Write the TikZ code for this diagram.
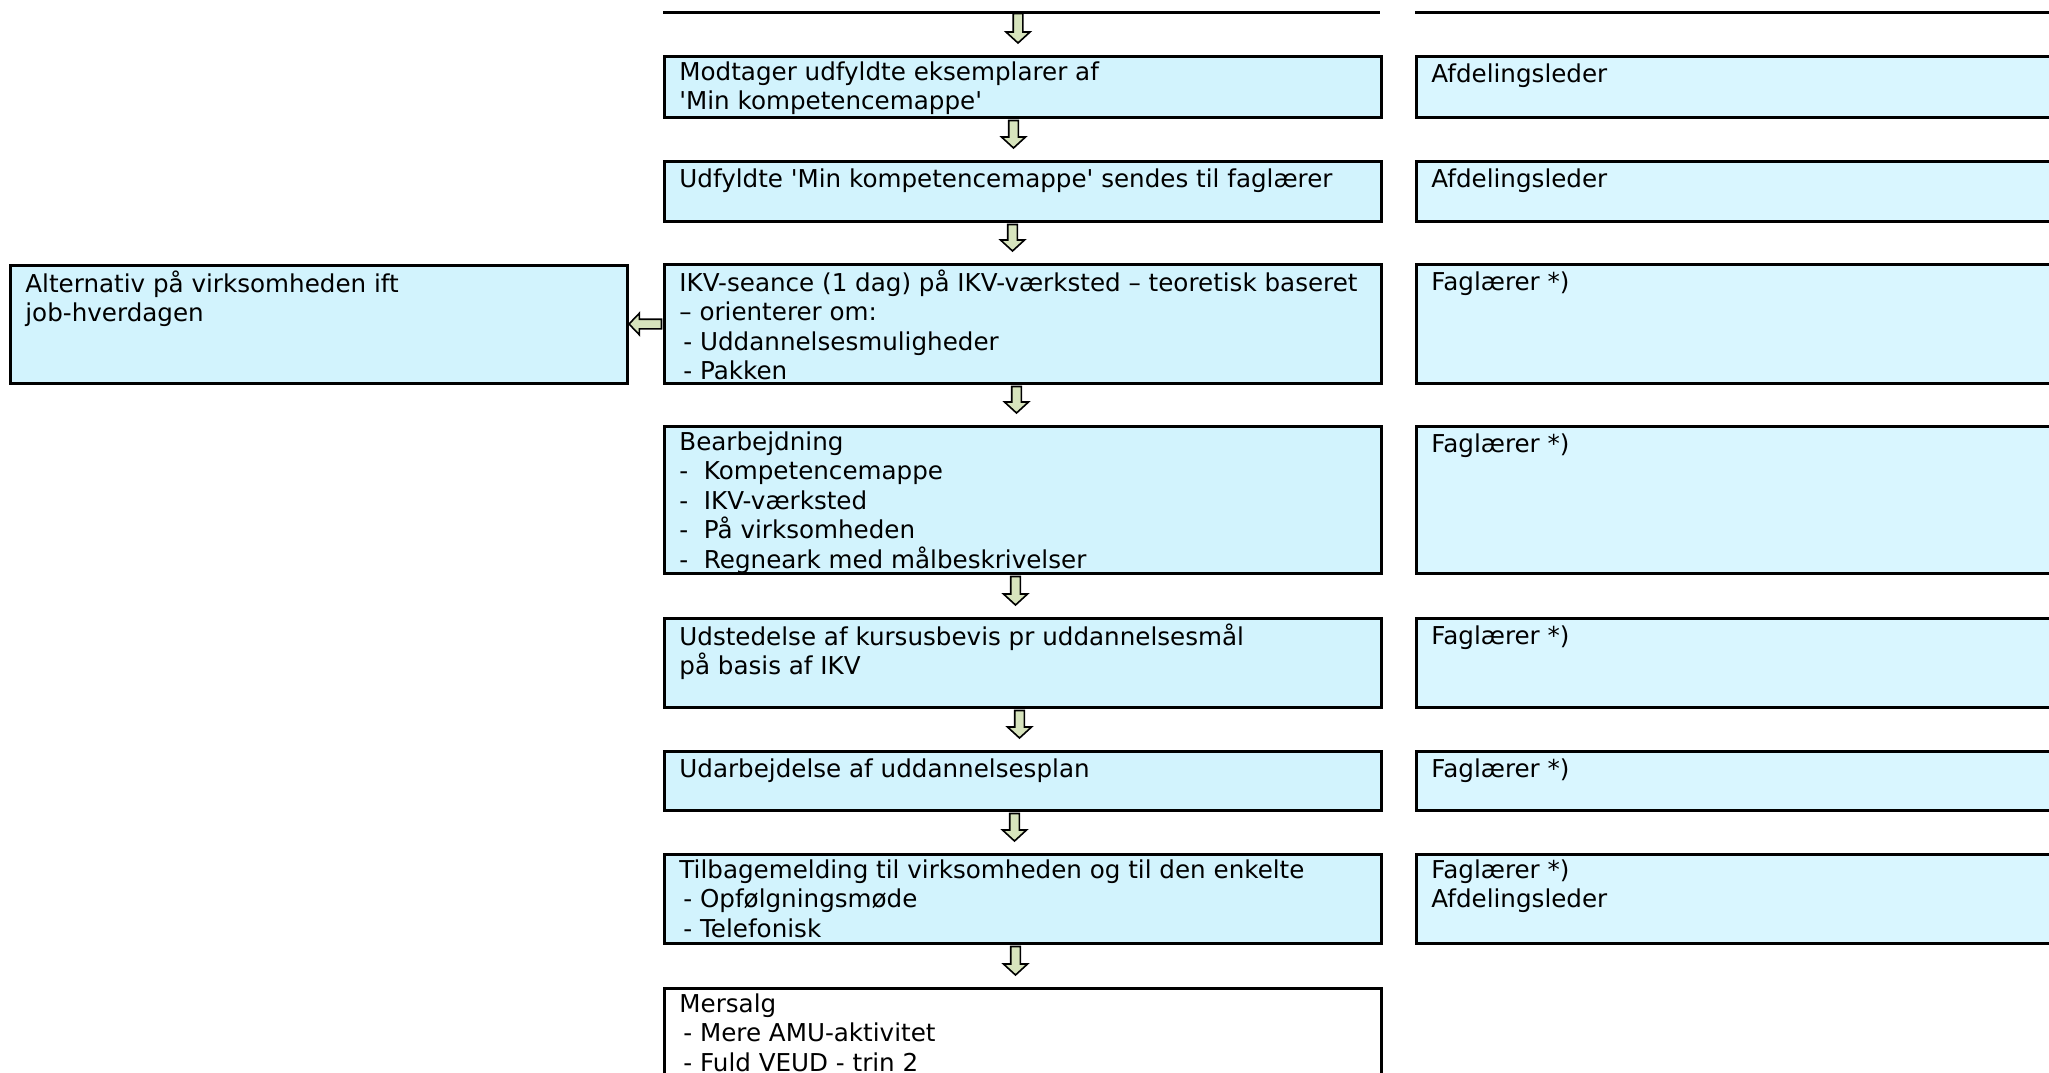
\documentclass[tikz,border=0pt]{standalone}
\usepackage{fontspec}
\setmainfont{DejaVu Sans}[Ligatures=TeXOff]
\usetikzlibrary{calc}

\definecolor{boxblue}{RGB}{210,243,253}
\definecolor{sideblue}{RGB}{217,246,255}
\definecolor{arrowgreen}{RGB}{215,228,189}

\tikzstyle{box} = [draw=black, line width=1.5pt, fill=boxblue, rectangle, inner sep=0, anchor=north west]
\tikzstyle{sidebox} = [box, fill=sideblue]
\tikzstyle{boxtext} = [anchor=north west, inner sep=0, align=left, font=\fontsize{12.3}{14.75}\selectfont, execute at begin node={\rule{0pt}{10.5pt}}]
\tikzstyle{flow} = [draw=black, line width=0.8pt, fill=arrowgreen, line join=miter]

\begin{document}
\begin{tikzpicture}[x=0.5pt,y=-0.5pt]
\def\wc{358.5pt}
\def\wr{330pt}

% down arrow: from, to, x offset
\def\flowdown#1#2#3{%
  \path[flow] let \p1=($(#1)+(#3,0)$), \p2=(#2) in
    (\x1-2.4pt,\y1-0.75pt) -- (\x1+2.4pt,\y1-0.75pt) -- (\x1+2.4pt,\y2+11.5pt) -- (\x1+6pt,\y2+11.5pt)
    -- (\x1,\y2+6pt) -- (\x1-6pt,\y2+11.5pt) -- (\x1-2.4pt,\y2+11.5pt) -- cycle;}
% left arrow: from, to
\def\flowleft#1#2{%
  \path[flow] let \p1=(#1), \p2=(#2) in
    (\x1-0.75pt,\y1-2.4pt) -- (\x1-0.75pt,\y1+2.4pt) -- (\x2+5.2pt,\y1+2.4pt) -- (\x2+5.2pt,\y1+5.4pt)
    -- (\x2,\y1) -- (\x2+5.2pt,\y1-5.4pt) -- (\x2+5.2pt,\y1-2.4pt) -- cycle;}

\clip (0,0) rectangle (2049,1072);
\fill[white] (0,0) rectangle (2049,1072);

%   cut-off boxes above
\coordinate (topc-w) at (663,12);
\coordinate (topc-e) at (1380,12);
\coordinate (topc) at (1021.5,12);
\coordinate (topr-w) at (1415,12);
\coordinate (topr-e) at (2049,12);
\draw[line width=1.5pt] (topc-w) -- (topc-e);
\draw[line width=1.5pt] (topr-w) -- (topr-e);

%   centre column
\node[box, minimum width=\wc, minimum height=30.5pt] (modtag) at (663,55) {};
\node[boxtext] (modtag-t) at ([shift={(16,6)}]modtag.north west) {Modtager udfyldte eksemplarer af\\'Min kompetencemappe'};

\node[box, minimum width=\wc, minimum height=30pt] (udfyld) at (663,160) {};
\node[boxtext] (udfyld-t) at ([shift={(16,6)}]udfyld.north west) {Udfyldte 'Min kompetencemappe' sendes til faglærer};

\node[box, minimum width=\wc, minimum height=59.5pt] (ikv) at (663,263) {};
\node[boxtext] (ikv-t) at ([shift={(16,6)}]ikv.north west) {IKV-seance (1 dag) på IKV-værksted – teoretisk baseret\\– orienterer om:\\\hspace*{2pt}- Uddannelsesmuligheder\\\hspace*{2pt}- Pakken};

\node[box, minimum width=\wc, minimum height=73.5pt] (bearb) at (663,425) {};
\node[boxtext] (bearb-t) at ([shift={(16,6)}]bearb.north west) {Bearbejdning\\-\ \ Kompetencemappe\\-\ \ IKV-værksted\\-\ \ På virksomheden\\-\ \ Regneark med målbeskrivelser};

\node[box, minimum width=\wc, minimum height=44.5pt] (udsted) at (663,617) {};
\node[boxtext] (udsted-t) at ([shift={(16,6)}]udsted.north west) {Udstedelse af kursusbevis pr uddannelsesmål\\på basis af IKV};

\node[box, minimum width=\wc, minimum height=29.5pt] (udarb) at (663,750) {};
\node[boxtext] (udarb-t) at ([shift={(16,6)}]udarb.north west) {Udarbejdelse af uddannelsesplan};

\node[box, minimum width=\wc, minimum height=44.5pt] (tilbage) at (663,853) {};
\node[boxtext] (tilbage-t) at ([shift={(16,6)}]tilbage.north west) {Tilbagemelding til virksomheden og til den enkelte\\\hspace*{2pt}- Opfølgningsmøde\\\hspace*{2pt}- Telefonisk};

\node[box, fill=white, minimum width=\wc, minimum height=70pt] (mersalg) at (663,987) {};
\node[boxtext] (mersalg-t) at ([shift={(16,6)}]mersalg.north west) {Mersalg\\\hspace*{2pt}- Mere AMU-aktivitet\\\hspace*{2pt}- Fuld VEUD - trin 2};

%   left box
\node[box, minimum width=308.5pt, minimum height=59pt] (alt) at (9,264) {};
\node[boxtext] (alt-t) at ([shift={(16,6)}]alt.north west) {Alternativ på virksomheden ift\\job-hverdagen};

%   right column
\node[sidebox, minimum width=\wr, minimum height=30.5pt] (r-modtag) at (1415,55) {};
\node[boxtext] (r-modtag-t) at ([shift={(16,6)}]r-modtag.north west) {Afdelingsleder};
\node[sidebox, minimum width=\wr, minimum height=30pt] (r-udfyld) at (1415,160) {};
\node[boxtext] (r-udfyld-t) at ([shift={(16,6)}]r-udfyld.north west) {Afdelingsleder};
\node[sidebox, minimum width=\wr, minimum height=59.5pt] (r-ikv) at (1415,263) {};
\node[boxtext] (r-ikv-t) at ([shift={(16,6)}]r-ikv.north west) {Faglærer *)};
\node[sidebox, minimum width=\wr, minimum height=73.5pt] (r-bearb) at (1415,425) {};
\node[boxtext] (r-bearb-t) at ([shift={(16,6)}]r-bearb.north west) {Faglærer *)};
\node[sidebox, minimum width=\wr, minimum height=44.5pt] (r-udsted) at (1415,617) {};
\node[boxtext] (r-udsted-t) at ([shift={(16,6)}]r-udsted.north west) {Faglærer *)};
\node[sidebox, minimum width=\wr, minimum height=29.5pt] (r-udarb) at (1415,750) {};
\node[boxtext] (r-udarb-t) at ([shift={(16,6)}]r-udarb.north west) {Faglærer *)};
\node[sidebox, minimum width=\wr, minimum height=44.5pt] (r-tilbage) at (1415,853) {};
\node[boxtext] (r-tilbage-t) at ([shift={(16,6)}]r-tilbage.north west) {Faglærer *)\\Afdelingsleder};

%   arrows
\flowdown{topc}{modtag.north}{-3.5}
\flowdown{modtag.south}{udfyld.north}{-9.5}
\flowdown{udfyld.south}{ikv.north}{-10.5}
\flowdown{ikv.south}{bearb.north}{-6.5}
\flowdown{bearb.south}{udsted.north}{-7.5}
\flowdown{udsted.south}{udarb.north}{-3.5}
\flowdown{udarb.south}{tilbage.north}{-8.5}
\flowdown{tilbage.south}{mersalg.north}{-7.5}
\flowleft{ikv.west}{alt.east}

\end{tikzpicture}
\end{document}
